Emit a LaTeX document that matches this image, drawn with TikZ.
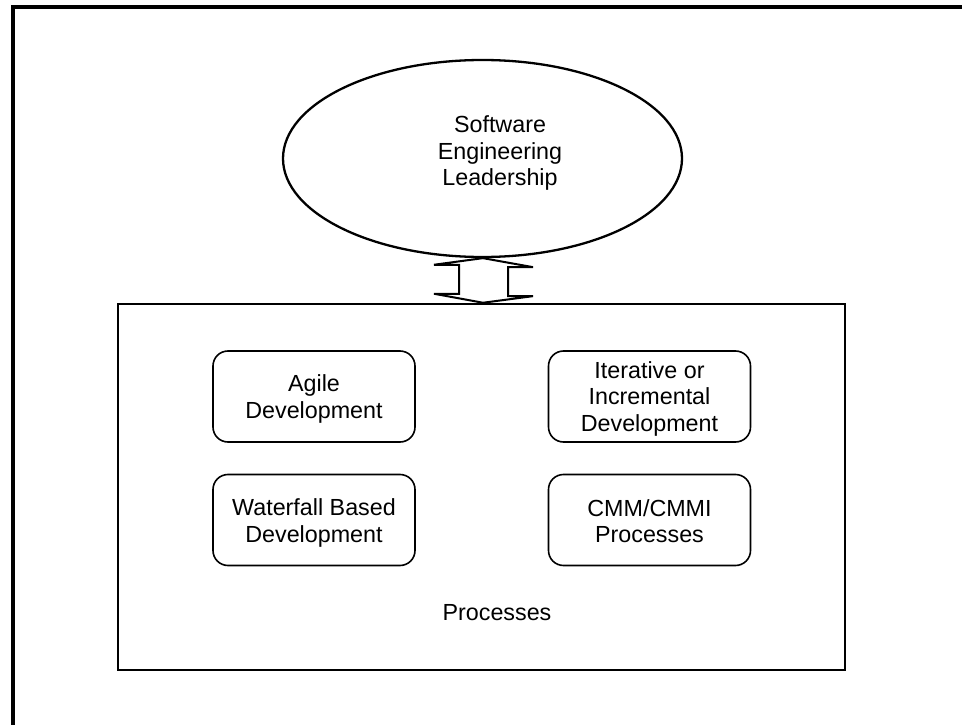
\documentclass[tikz,border=0pt]{standalone}
\usepackage{fontspec}
\setmainfont{Liberation Sans}
\usetikzlibrary{shapes.geometric,calc}
\begin{document}
\begin{tikzpicture}[x=1pt,y=-1pt,
  lbl/.style={font=\fontsize{23.3}{26.5}\selectfont, align=center, inner sep=0pt},
  rbox/.style={draw, line width=1.6pt, rounded corners=15pt, minimum width=202pt, minimum height=91pt, inner sep=0pt},
  thick frame/.style={line width=4pt},
  bigbox/.style={draw, line width=2.5pt, inner sep=0pt},
  ell/.style={draw, ellipse, line width=2.3pt, inner sep=0pt},
  dblarrow/.style={draw, line width=2pt, fill=white, line join=miter}]
\useasboundingbox (0,0) rectangle (962,725);
% outer frame (top and left only)
\coordinate (fbl) at (13,725);
\coordinate (ftl) at (13,7);
\coordinate (ftr) at (962,7);
\draw[thick frame] (fbl) -- (ftl) -- (ftr);
% leadership ellipse
\node[ell, minimum width=399pt, minimum height=197pt] (lead) at (482.5,158.5) {};
\node[lbl] (leadtxt) at (500,153) {Software\\Engineering\\Leadership};
% processes box
\node[bigbox, minimum width=727pt, minimum height=366pt] (proc) at (481.5,487) {};
\node[lbl] (proctxt) at (497,613) {Processes};
% inner rounded boxes
\node[rbox] (agile) at (314,396.5) {};
\node[lbl] (agiletxt) at (314,399) {Agile\\Development};
\node[rbox] (iter) at (649.5,396.5) {};
\node[lbl] (itertxt) at (649.5,398.5) {Iterative or\\Incremental\\Development};
\node[rbox] (water) at (314,520) {};
\node[lbl] (watertxt) at (314,523) {Waterfall Based\\Development};
\node[rbox] (cmm) at (649.5,520) {};
\node[lbl] (cmmtxt) at (649.5,521) {CMM/CMMI\\Processes};
% double arrow between ellipse and box
\coordinate (at) at ($(lead.south)+(0.5,0)$);
\coordinate (ab) at ($(proc.north)+(1.5,0)$);
\draw[dblarrow] (at) -- ++(50,9) -- ++(-25,0) -- ++(0,29) -- ++(25,0)
  -- (ab) -- ++(-49,-9) -- ++(25,0) -- ++(0,-29) -- ++(-25,0) -- cycle;
\end{tikzpicture}
\end{document}
